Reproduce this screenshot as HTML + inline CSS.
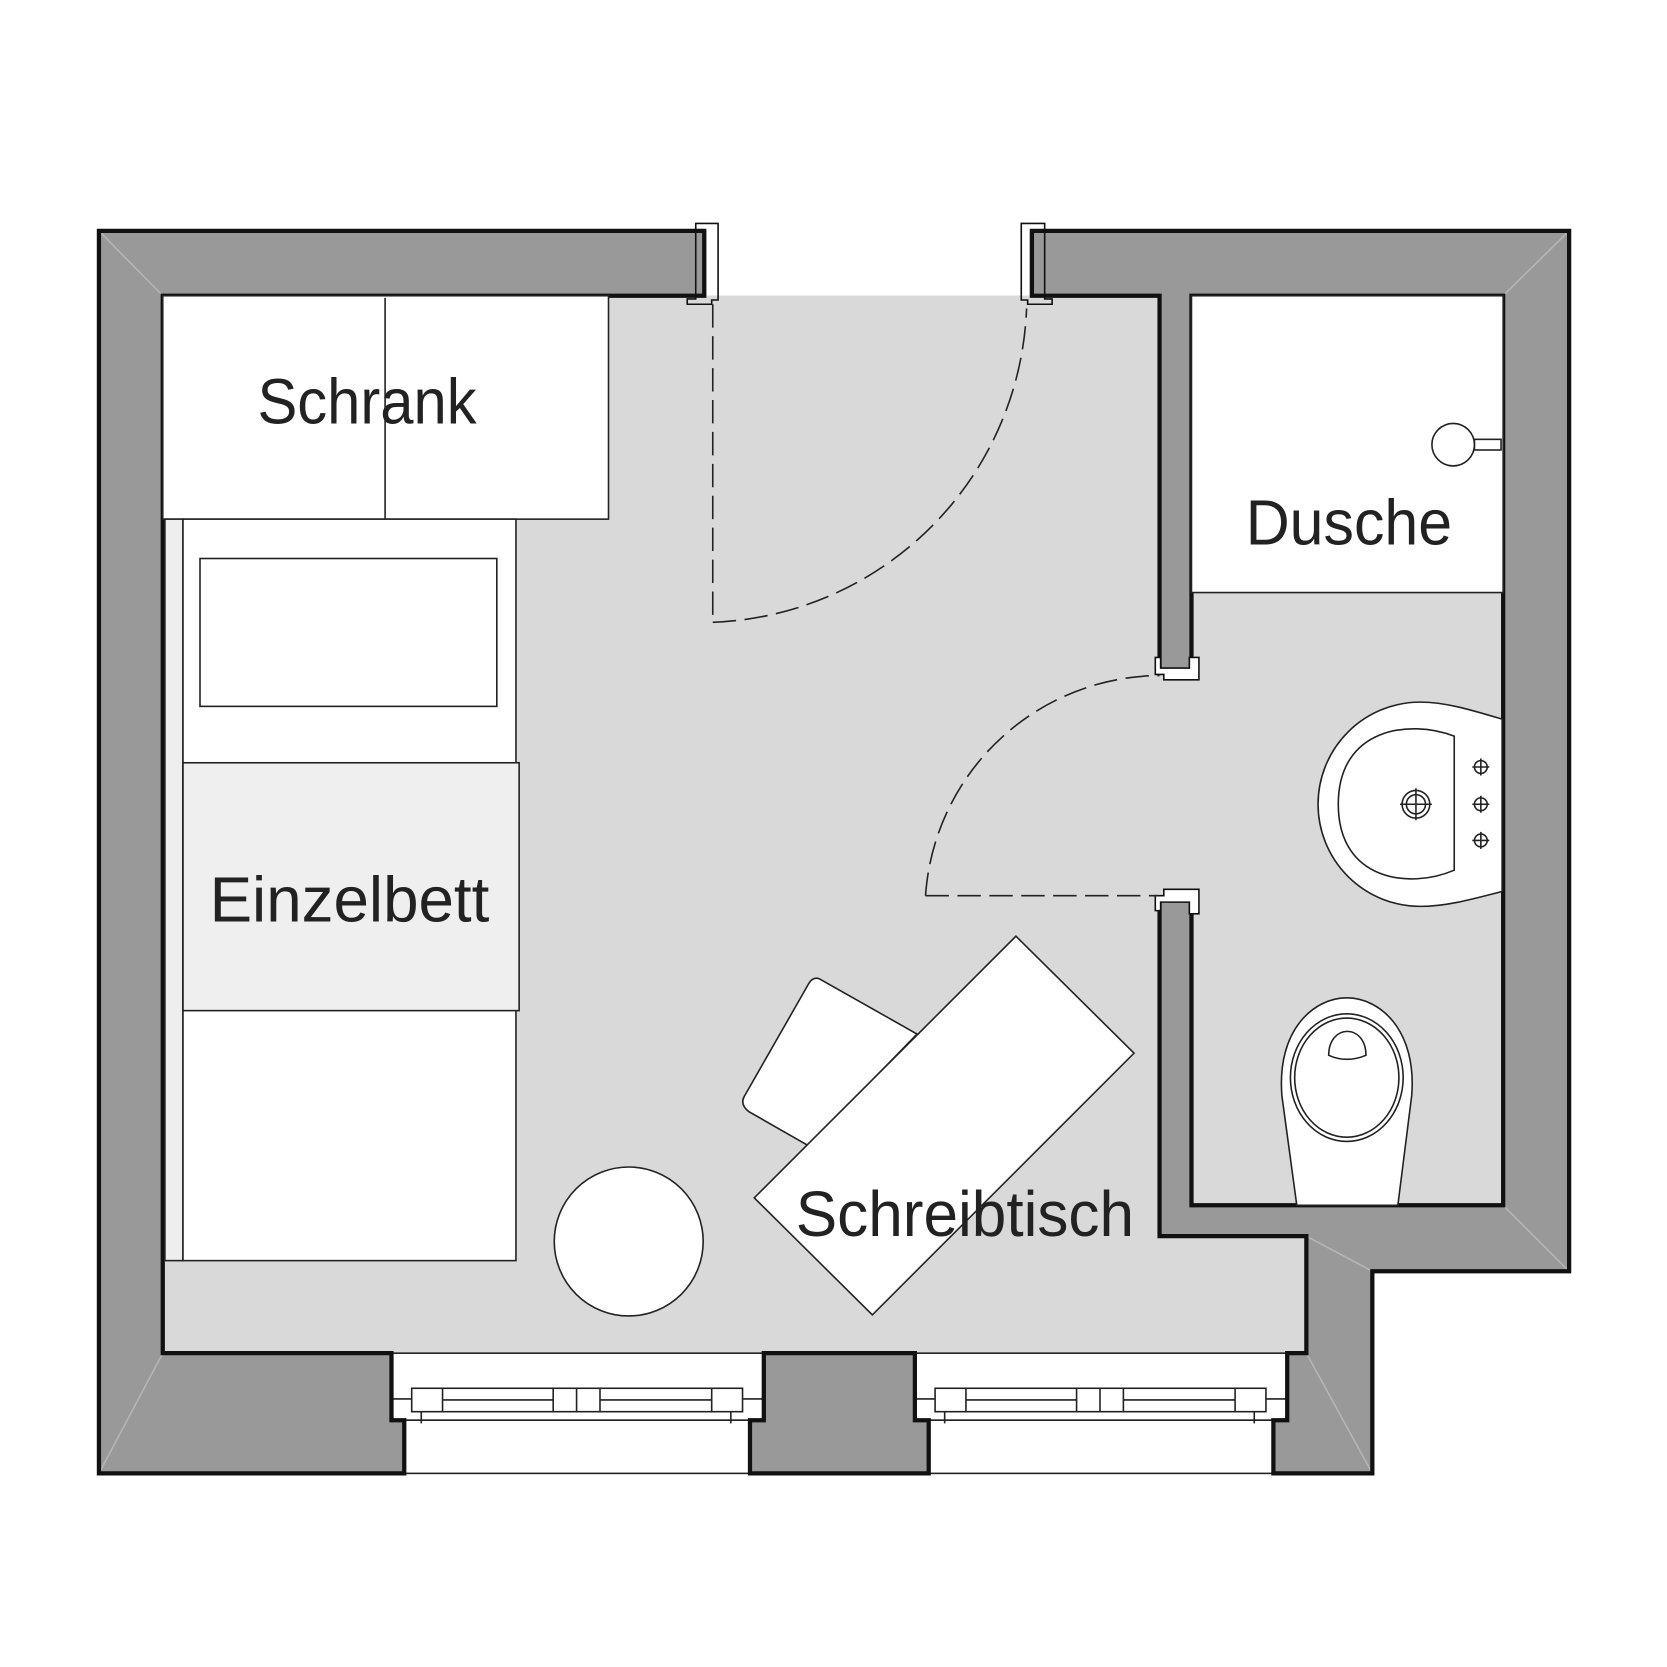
<!DOCTYPE html>
<html><head><meta charset="utf-8"><style>html,body{margin:0;padding:0;background:#fff}svg{display:block}</style></head>
<body>
<svg width="1667" height="1667" viewBox="0 0 1567 1567" xmlns="http://www.w3.org/2000/svg">
<path d="M93,217 H1475 V1195 H1290 V1385 H93 Z" fill="#999"/>
<g stroke="#b5b5b5" stroke-width="1.5">
<line x1="93" y1="217" x2="153" y2="278"/>
<line x1="1475" y1="217" x2="1413" y2="278"/>
<line x1="1475" y1="1195" x2="1413" y2="1133"/>
<line x1="93" y1="1385" x2="153" y2="1272"/>
<line x1="1290" y1="1385" x2="1228" y2="1272"/>
<line x1="1290" y1="1195" x2="1228" y2="1162"/>
</g>
<path d="M153,278 H1090 V1162 H1228 V1272 H153 Z" fill="#d9d9d9"/>
<rect x="1120" y="278" width="293" height="855" fill="#d9d9d9"/>
<rect x="1088" y="630" width="34" height="215" fill="#d9d9d9"/>
<rect x="664" y="200" width="304" height="78" fill="#fff"/>
<g fill="#fff" stroke="#222" stroke-width="1.5">
<rect x="368" y="1272" width="350" height="63"/>
<rect x="380" y="1335" width="325" height="50"/>
<rect x="860" y="1272" width="350" height="63"/>
<rect x="873" y="1335" width="324" height="50"/>
</g>
<g fill="none" stroke="#222" stroke-width="1.5">
<g id="w1">
<line x1="368" y1="1315" x2="387" y2="1315"/><line x1="698" y1="1315" x2="718" y2="1315"/>
<rect x="387" y="1305" width="311" height="22"/>
<line x1="416" y1="1305" x2="416" y2="1327"/><line x1="669" y1="1305" x2="669" y2="1327"/>
<line x1="520" y1="1305" x2="520" y2="1327"/><line x1="542" y1="1305" x2="542" y2="1327"/><line x1="564" y1="1305" x2="564" y2="1327"/>
<line x1="416" y1="1316" x2="520" y2="1316"/><line x1="564" y1="1316" x2="669" y2="1316"/>
<line x1="396" y1="1327" x2="396" y2="1338"/><line x1="687" y1="1327" x2="687" y2="1338"/>
</g>
<use href="#w1" transform="translate(492,0)"/>
</g>
<g fill="none" stroke="#111" stroke-width="4" stroke-linejoin="miter">
<path d="M662,278 V217 H93 V1385 H380 V1335 H368 V1272 H153 V278 Z"/>
<path d="M718,1272 H860 V1335 H873 V1385 H705 V1335 H718 Z"/>
<path d="M970,278 V217 H1475 V1195 H1290 V1385 H1197 V1335 H1210 V1272 H1228 V1162 H1090 V845 H1120 V1133 H1413 V278 H1120 V630 H1090 V278 Z"/>
</g>
<g fill="#fff" stroke="#111" stroke-width="1.5">
<path d="M654,210 H675 V282 H669 V286 H646 V281 H654 Z" fill="none"/>
<path d="M982,210 H960 V282 H966 V286 H989 V281 H982 Z" fill="none"/>
<path d="M1086,618 H1091 V628 H1118 V618 H1127 V639 H1094 V634 H1086 Z"/>
<path d="M1094,836 H1127 V859 H1118 V848 H1091 V856 H1086 V842 H1094 Z"/>
</g>
<g fill="none" stroke="#222" stroke-width="1.5" stroke-dasharray="22,8">
<line x1="670" y1="286" x2="670" y2="585"/>
<path d="M670,585 A307,307 0 0 0 965,290"/>
<line x1="870" y1="842" x2="1088" y2="842"/>
<path d="M870,842 A222,222 0 0 1 1090,635"/>
</g>
<g fill="#fff" stroke="#222" stroke-width="1.5">
<rect x="153" y="278" width="419" height="210"/>
<line x1="362" y1="280" x2="362" y2="488"/>
<rect x="155" y="488" width="17" height="697" fill="#eee"/>
<rect x="172" y="488" width="313" height="697"/>
<rect x="188" y="525" width="279" height="139"/>
<rect x="172" y="717" width="316" height="233" fill="#efefef"/>
<circle cx="591" cy="1167" r="70"/>
<path d="M770,920 L862,972 L760,1077 L704,1045 Q695,1038 700,1030 L760,925 Q764,918 770,920 Z"/>
<path d="M955,880 L1066,990 L820,1236 L709,1126 Z"/>
<rect x="1120" y="278" width="293" height="279"/>
<rect x="1386" y="413" width="25" height="10"/>
<circle cx="1366" cy="418" r="20"/>
<path d="M1412,676 C1385,668 1360,660 1335,660 A96,96 0 0 0 1335,852 C1360,852 1385,845 1412,838 Z"/>
<path d="M1367,692 C1325,676 1258,684 1258,756 C1258,828 1325,836 1367,818 Z"/>
<path d="M1219,1133 L1205,1030 C1200,968 1235,938 1266,938 C1297,938 1332,968 1327,1030 L1314,1133 Z"/>
<ellipse cx="1266" cy="1013" rx="53" ry="60"/>
<ellipse cx="1266" cy="1013" rx="49" ry="56"/>
<path d="M1249,992 C1249,962 1284,962 1284,992 C1272,997 1260,997 1249,992 Z"/>
</g>
<g fill="none" stroke="#222" stroke-width="1.5">
<circle cx="1331" cy="756" r="13"/><circle cx="1331" cy="756" r="9"/>
<line x1="1316" y1="756" x2="1346" y2="756"/><line x1="1331" y1="741" x2="1331" y2="771"/>
<circle cx="1392" cy="721" r="6"/><line x1="1384" y1="721" x2="1400" y2="721"/><line x1="1392" y1="713" x2="1392" y2="729"/>
<circle cx="1392" cy="756" r="6"/><line x1="1384" y1="756" x2="1400" y2="756"/><line x1="1392" y1="748" x2="1392" y2="764"/>
<circle cx="1392" cy="790" r="6"/><line x1="1384" y1="790" x2="1400" y2="790"/><line x1="1392" y1="782" x2="1392" y2="798"/>
</g>
<g font-family="Liberation Sans, sans-serif" font-size="60" fill="#222">
<text x="242" y="398" textLength="206" lengthAdjust="spacingAndGlyphs">Schrank</text>
<text x="1171" y="512" textLength="194" lengthAdjust="spacingAndGlyphs">Dusche</text>
<text x="197" y="866" textLength="263" lengthAdjust="spacingAndGlyphs">Einzelbett</text>
<text x="748" y="1162" textLength="318" lengthAdjust="spacingAndGlyphs">Schreibtisch</text>
</g>
</svg>
</body></html>
